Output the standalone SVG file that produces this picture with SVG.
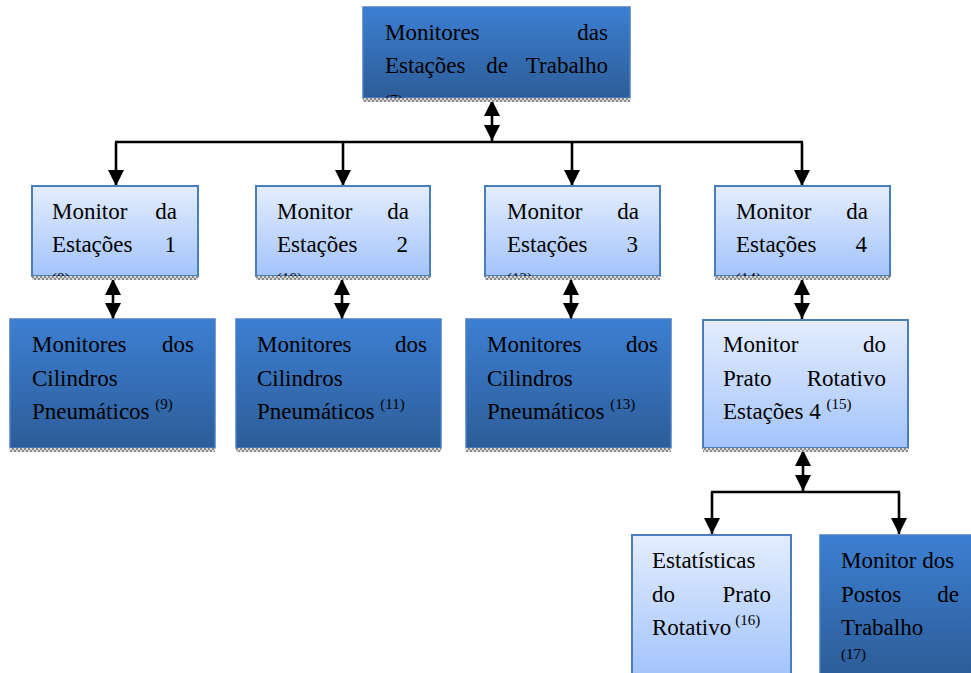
<svg xmlns="http://www.w3.org/2000/svg" width="971" height="673" viewBox="0 0 971 673">
<style>
text{font-family:"Liberation Serif","Times New Roman",serif;fill:#000}
.t{font-size:23px}
.s{font-size:15px}
.e{text-anchor:end}
.m{text-anchor:middle}
.dark{fill:url(#gDark);stroke:#4a7ec4;stroke-width:1.5}
.light{fill:url(#gLight);stroke:#4a7ebb;stroke-width:2}
.hatch{fill:url(#pHatch)}
.ln{stroke:#000;stroke-width:2.6;fill:none}
.ar{marker-end:url(#ah)}
.dbl{marker-end:url(#ah);marker-start:url(#ah)}
</style>
<defs>
<linearGradient id="gDark" x1="0" y1="0" x2="0" y2="1">
<stop offset="0" stop-color="#3c7fd2"/>
<stop offset="1" stop-color="#2d5d98"/>
</linearGradient>
<linearGradient id="gLight" x1="0" y1="0" x2="0" y2="1">
<stop offset="0" stop-color="#e4edfd"/>
<stop offset="1" stop-color="#a3c4fb"/>
</linearGradient>
<pattern id="pHatch" width="4" height="4" patternUnits="userSpaceOnUse">
<rect width="4" height="4" fill="#d8d8d8"/>
<rect x="0" y="0" width="2" height="2" fill="#8a8a8a"/>
<rect x="2" y="2" width="2" height="2" fill="#8a8a8a"/>
</pattern>
<marker id="ah" viewBox="0 0 10 10" refX="10" refY="5" markerWidth="16" markerHeight="16" markerUnits="userSpaceOnUse" orient="auto-start-reverse">
<path d="M0,0 L10,5 L0,10 z" fill="#000"/>
</marker>
<clipPath id="c0"><rect x="363" y="7" width="267" height="91"/></clipPath>
<clipPath id="c1"><rect x="32" y="186" width="166" height="90"/></clipPath>
<clipPath id="c2"><rect x="256" y="186" width="174" height="90"/></clipPath>
<clipPath id="c3"><rect x="485" y="186" width="175" height="90"/></clipPath>
<clipPath id="c4"><rect x="715" y="186" width="175" height="90"/></clipPath>
</defs>

<g id="connectors">
<line class="ln dbl" x1="492" y1="100" x2="492" y2="141"/>
<line class="ln" x1="115" y1="142" x2="803" y2="142"/>
<line class="ln ar" x1="116" y1="142" x2="116" y2="186"/>
<line class="ln ar" x1="343" y1="142" x2="343" y2="186"/>
<line class="ln ar" x1="572" y1="142" x2="572" y2="186"/>
<line class="ln ar" x1="802" y1="142" x2="802" y2="186"/>
<line class="ln dbl" x1="113" y1="279" x2="113" y2="319"/>
<line class="ln dbl" x1="342" y1="279" x2="342" y2="319"/>
<line class="ln dbl" x1="571" y1="279" x2="571" y2="319"/>
<line class="ln dbl" x1="802" y1="279" x2="802" y2="319"/>
<line class="ln dbl" x1="803" y1="450" x2="803" y2="491"/>
<line class="ln" x1="711" y1="492" x2="900" y2="492"/>
<line class="ln ar" x1="712" y1="492" x2="712" y2="534"/>
<line class="ln ar" x1="899" y1="492" x2="899" y2="534"/>
</g>

<g id="n7">
<rect class="dark" x="363" y="7" width="267" height="91"/>
<rect class="hatch" x="363" y="98" width="267" height="4"/>
<text class="t" x="385" y="40">Monitores</text>
<text class="t e" x="608" y="40">das</text>
<text class="t" x="385" y="73">Estações</text>
<text class="t m" x="497" y="73">de</text>
<text class="t e" x="608" y="73">Trabalho</text>
<text class="s" x="385" y="105" clip-path="url(#c0)">(7)</text>
</g>

<g id="n8">
<rect class="light" x="32" y="186" width="166" height="90"/>
<rect class="hatch" x="32" y="276" width="166" height="4"/>
<text class="t" x="52" y="219">Monitor</text>
<text class="t e" x="177" y="219">da</text>
<text class="t" x="52" y="252">Estações</text>
<text class="t e" x="176" y="252">1</text>
<text class="s" x="52" y="283" clip-path="url(#c1)">(8)</text>
</g>

<g id="n10">
<rect class="light" x="256" y="186" width="174" height="90"/>
<rect class="hatch" x="256" y="276" width="174" height="4"/>
<text class="t" x="277" y="219">Monitor</text>
<text class="t e" x="409" y="219">da</text>
<text class="t" x="277" y="252">Estações</text>
<text class="t e" x="408" y="252">2</text>
<text class="s" x="277" y="283" clip-path="url(#c2)">(10)</text>
</g>

<g id="n12">
<rect class="light" x="485" y="186" width="175" height="90"/>
<rect class="hatch" x="485" y="276" width="175" height="4"/>
<text class="t" x="507" y="219">Monitor</text>
<text class="t e" x="639" y="219">da</text>
<text class="t" x="507" y="252">Estações</text>
<text class="t e" x="638" y="252">3</text>
<text class="s" x="507" y="283" clip-path="url(#c3)">(12)</text>
</g>

<g id="n14">
<rect class="light" x="715" y="186" width="175" height="90"/>
<rect class="hatch" x="715" y="276" width="175" height="4"/>
<text class="t" x="736" y="219">Monitor</text>
<text class="t e" x="868" y="219">da</text>
<text class="t" x="736" y="252">Estações</text>
<text class="t e" x="867" y="252">4</text>
<text class="s" x="736" y="283" clip-path="url(#c4)">(14)</text>
</g>

<g id="n9">
<rect class="dark" x="10" y="319" width="205" height="129"/>
<rect class="hatch" x="10" y="448" width="205" height="4"/>
<text class="t" x="32" y="352">Monitores</text>
<text class="t e" x="194" y="352">dos</text>
<text class="t" x="32" y="386">Cilindros</text>
<text class="t" x="32" y="419">Pneumáticos <tspan class="s" dy="-10">(9)</tspan></text>
</g>

<g id="n11">
<rect class="dark" x="236" y="319" width="205" height="129"/>
<rect class="hatch" x="236" y="448" width="205" height="4"/>
<text class="t" x="257" y="352">Monitores</text>
<text class="t e" x="427" y="352">dos</text>
<text class="t" x="257" y="386">Cilindros</text>
<text class="t" x="257" y="419">Pneumáticos <tspan class="s" dy="-10">(11)</tspan></text>
</g>

<g id="n13">
<rect class="dark" x="466" y="319" width="205" height="129"/>
<rect class="hatch" x="466" y="448" width="205" height="4"/>
<text class="t" x="487" y="352">Monitores</text>
<text class="t e" x="658" y="352">dos</text>
<text class="t" x="487" y="386">Cilindros</text>
<text class="t" x="487" y="419">Pneumáticos <tspan class="s" dy="-10">(13)</tspan></text>
</g>

<g id="n15">
<rect class="light" x="703" y="320" width="205" height="128"/>
<rect class="hatch" x="703" y="448" width="205" height="4"/>
<text class="t" x="723" y="352">Monitor</text>
<text class="t e" x="886" y="352">do</text>
<text class="t" x="723" y="386">Prato</text>
<text class="t e" x="886" y="386">Rotativo</text>
<text class="t" x="723" y="419">Estações 4 <tspan class="s" dy="-10">(15)</tspan></text>
</g>

<g id="n16">
<rect class="light" x="632" y="535" width="159" height="140"/>
<text class="t" x="652" y="568">Estatísticas</text>
<text class="t" x="652" y="602">do</text>
<text class="t e" x="771" y="602">Prato</text>
<text class="t" x="652" y="635">Rotativo<tspan class="s" dx="4" dy="-10">(16)</tspan></text>
</g>

<g id="n17">
<rect class="dark" x="820" y="535" width="155" height="140"/>
<text class="t" x="841" y="568">Monitor dos</text>
<text class="t" x="841" y="602">Postos</text>
<text class="t e" x="959" y="602">de</text>
<text class="t" x="841" y="635">Trabalho</text>
<text class="s" x="841" y="659">(17)</text>
</g>
</svg>
